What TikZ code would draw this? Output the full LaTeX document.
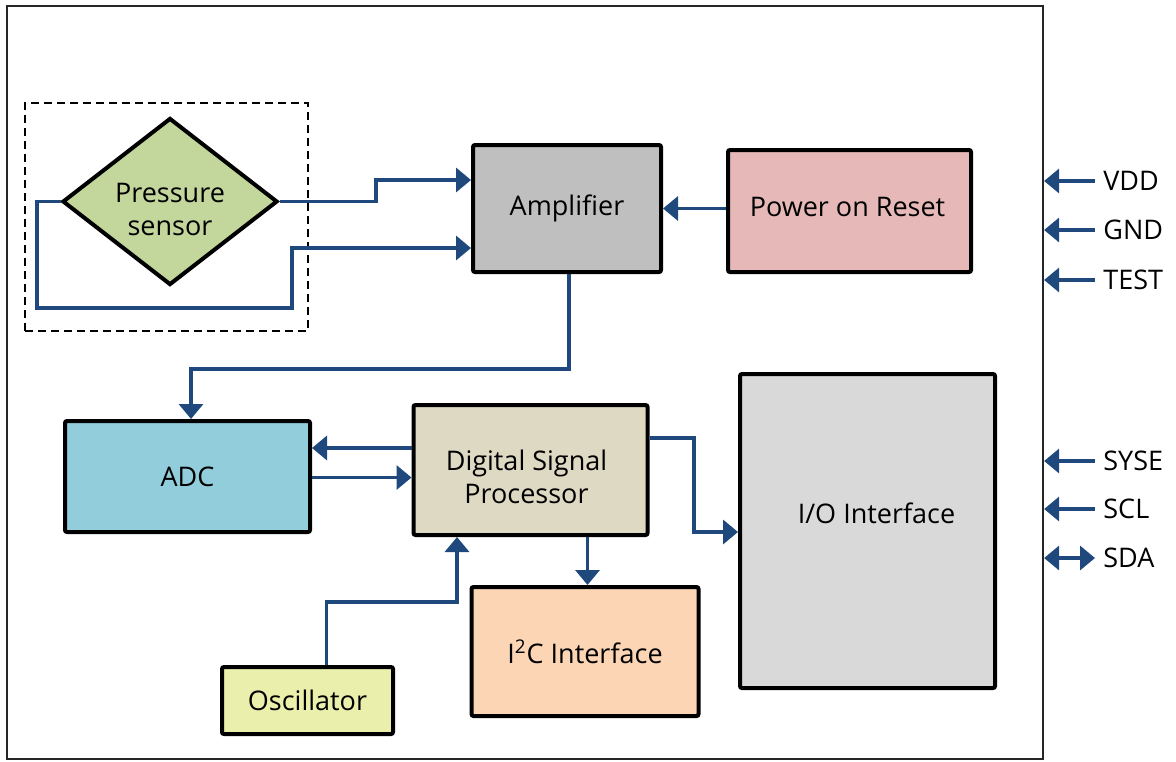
\documentclass[tikz,border=0pt]{standalone}
\usepackage{fontspec}
\setmainfont{Open Sans}
\usetikzlibrary{arrows.meta,shapes.geometric,positioning}
\definecolor{wire}{HTML}{1F497D}
\definecolor{sensorgreen}{HTML}{C3D69B}
\definecolor{ampgray}{HTML}{BFBFBF}
\definecolor{porpink}{HTML}{E6B9B8}
\definecolor{adcblue}{HTML}{92CDDC}
\definecolor{dsptan}{HTML}{DDD9C3}
\definecolor{iogray}{HTML}{D9D9D9}
\definecolor{iicpeach}{HTML}{FCD5B5}
\definecolor{oscyellow}{HTML}{EAF0AB}
\tikzset{>/.tip={Triangle[length=7.5pt,width=12pt]}}
\tikzset{block/.style={draw,line width=2pt,rounded corners=1pt,align=center,inner sep=2pt}}
\tikzset{sig/.style={wire,line width=1.7pt,->}}
\tikzset{pinlabel/.style={anchor=west,inner sep=4pt}}

\begin{document}
\begin{tikzpicture}[x=0.5pt,y=-0.5pt,font=\fontsize{13.5pt}{16.5pt}\selectfont]
        \useasboundingbox (0,0) rectangle (1176,761);
        \node(chip)[draw=black!85,line width=1.1pt,minimum width=518pt,minimum height=376.5pt] at (525,382.5){};
        % sensor group
        \node(sensorbox)[draw,line width=0.9pt,dash pattern=on 4pt off 2.5pt,minimum width=141.5pt,minimum height=114pt] at (166.5,217){};
        \node(ps)[block,diamond,rounded corners=0pt,fill=sensorgreen,minimum width=107.5pt,minimum height=83.5pt,inner sep=0pt,
          label={[align=center,yshift=-4pt]center:Pressure\\sensor}] at (170,201.5){};
        \node(amp)[block,fill=ampgray,minimum width=94pt,minimum height=63.5pt] at (567,208.5){Amplifier};
        \node(por)[block,fill=porpink,minimum width=121.5pt,minimum height=61pt,
          label={[yshift=2pt,xshift=-1pt]center:Power on Reset}] at (849.5,211){};
        \node(adc)[block,fill=adcblue,minimum width=122.5pt,minimum height=55.5pt] at (187.5,476.5){ADC};
        \node(dsp)[block,fill=dsptan,minimum width=117pt,minimum height=65pt,
          label={[align=center,yshift=-3.5pt,xshift=-2pt]center:Digital Signal\\Processor}] at (530.5,470){};
        \node(io)[block,fill=iogray,minimum width=127.5pt,minimum height=157pt,
          label={[yshift=9pt,xshift=4.5pt]center:I/O Interface}] at (867.5,531){};
        \node(iic)[block,fill=iicpeach,minimum width=113.5pt,minimum height=64.5pt] at (585,651.5){I\textsuperscript{2}C Interface};
        \node(osc)[block,fill=oscyellow,minimum width=85.5pt,minimum height=33.5pt] at (307.5,700.5){Oscillator};
        % bends
        \coordinate(s1) at (376,180);
        \coordinate(s2) at (37,308);
        \coordinate(s3) at (292,248);
        \coordinate(a1) at (191,369);
        \coordinate(o1) at (457,602);
        \coordinate(d1) at (694,438);
        \coordinate(d2) at (694,532);
        \draw[sig] (ps.east) -| (s1) -- (s1 -| amp.west);
        \draw[sig] (ps.west) -| (s2) -| (s3) -- (s3 -| amp.west);
        \draw[sig] (por.west |- amp.west) -- (amp.east);
        \draw[sig] ([xshift=1pt]amp.south) |- (a1) -- (a1 |- adc.north);
        \draw[sig] ([yshift=11pt]dsp.west) -- ([yshift=11pt]dsp.west -| adc.east);
        \draw[sig] ([yshift=-0.5pt]adc.east) -- ([yshift=-0.5pt]adc.east -| dsp.west);
        \draw[sig] ([xshift=9.5pt]osc.north) |- (o1) -- (o1 |- dsp.south);
        \draw[sig] ([xshift=28.5pt]dsp.south) -- ([xshift=28.5pt]dsp.south |- iic.north);
        \draw[sig] (d1 -| dsp.east) -- (d1) -- (d2) -- (d2 -| io.west);
        % pins
        \node(vdd)[pinlabel] at (1095,181){VDD};
        \node(gnd)[pinlabel] at (1095,230){GND};
        \node(test)[pinlabel] at (1095,280){TEST};
        \node(syse)[pinlabel] at (1095,461){SYSE};
        \node(scl)[pinlabel] at (1095,509){SCL};
        \node(sda)[pinlabel] at (1095,558){SDA};
        \foreach \p in {vdd,gnd,test,syse,scl}
          \draw[sig] (\p.west) -- (\p.west -| chip.east);
        \draw[sig,<->] (sda.west) -- (sda.west -| chip.east);
      \end{tikzpicture}
\end{document}
